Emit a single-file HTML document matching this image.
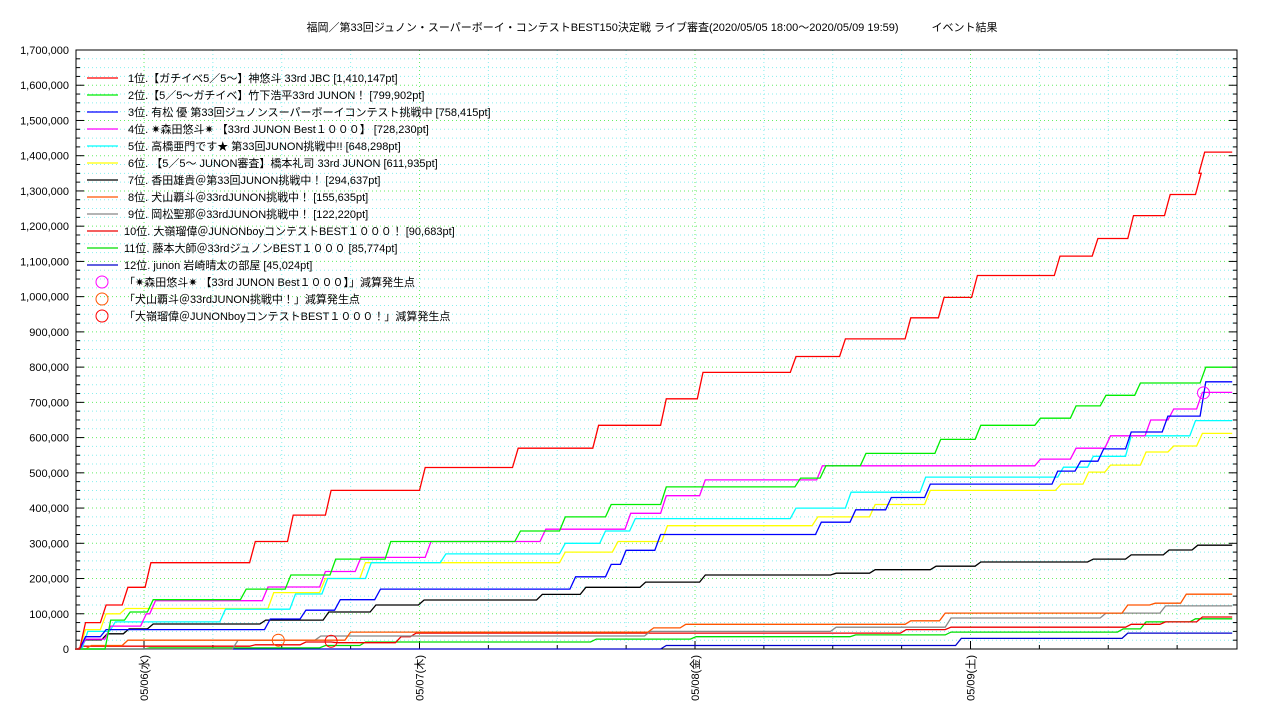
<!DOCTYPE html>
<html><head><meta charset="utf-8"><style>
body{margin:0;background:#fff;}
svg text{font-family:"Liberation Sans","Noto Sans CJK JP",sans-serif;}
</style></head><body>
<svg id="chart" width="1280" height="720" xmlns="http://www.w3.org/2000/svg">
<text x="652" y="31" font-size="11" text-anchor="middle">福岡／第33回ジュノン・スーパーボーイ・コンテストBEST150決定戦 ライブ審査(2020/05/05 18:00〜2020/05/09 19:59)　　　イベント結果</text>
<g id="grid"></g><g id="axes"></g><g id="series"></g><g id="marks"></g><g id="legend"></g>
</svg>
<script>
const yTicks=[0,100000,200000,300000,400000,500000,600000,700000,800000,900000,1000000,1100000,1200000,1300000,1400000,1500000,1600000,1700000];
const dayLabels=["05/06(水)","05/07(木)","05/08(金)","05/09(土)"];
const dayHours=[6,30,54,78];
const names=["1位.【ガチイベ5／5〜】神悠斗 33rd JBC [1,410,147pt]","2位.【5／5〜ガチイベ】竹下浩平33rd JUNON！ [799,902pt]","3位. 有松 優 第33回ジュノンスーパーボーイコンテスト挑戦中 [758,415pt]","4位. ✷森田悠斗✷ 【33rd JUNON Best１０００】 [728,230pt]","5位. 高橋亜門です★ 第33回JUNON挑戦中!! [648,298pt]","6位. 【5／5〜 JUNON審査】橋本礼司 33rd JUNON  [611,935pt]","7位. 香田雄貴＠第33回JUNON挑戦中！ [294,637pt]","8位. 犬山覇斗＠33rdJUNON挑戦中！ [155,635pt]","9位. 岡松聖那＠33rdJUNON挑戦中！ [122,220pt]","10位. 大嶺瑠偉＠JUNONboyコンテストBEST１０００！ [90,683pt]","11位. 藤本大師＠33rdジュノンBEST１０００ [85,774pt]","12位. junon 岩崎晴太の部屋 [45,024pt]"];
const colors=["#ff0000","#00ee00","#0000ff","#ff00ff","#00ffff","#ffff00","#000000","#ff5500","#888888","#ee0000","#00dd00","#0000cc"];
const endHour=100.8;
const s1t=[0,0.4,2.2,4.1,6.1,15.2,18.5,21.8,30.0,38.1,45.1,51.0,54.2,62.3,66.6,72.3,75.2,78.1,85.3,88.6,91.7,94.9,97.6,97.9];
const s1v=[0,75000,125000,175000,245000,305000,380000,450000,515000,570000,635000,710000,785000,830000,880000,940000,998000,1060000,1115000,1165000,1230000,1290000,1350000,1410147];
const s2t=[0,2.6,4.3,6.3,14.4,18.3,22.2,27.0,38.3,42.2,46.2,51.0,62.7,64.9,68.4,74.9,78.4,83.6,86.7,89.3,92.3,98.0];
const s2v=[0,82000,105000,140000,170000,210000,255000,305000,335000,375000,410000,460000,485000,520000,555000,595000,635000,655000,690000,720000,755000,799902];
const s3t=[0,0.4,2.2,16.5,19.6,22.6,26.1,43.1,46.2,47.5,50.5,64.5,67.5,70.6,74.0,85.1,87.1,89.1,91.5,94.7,98.0];
const s3v=[0,35000,55000,85000,110000,140000,170000,205000,240000,280000,325000,360000,395000,430000,468000,505000,533000,568000,616000,661000,758415];
const s4t=[0,0.4,2.6,5.7,6.5,16.3,21.3,24.4,30.5,40.5,47.9,51.0,54.4,64.6,83.6,86.7,89.7,93.2,95.2,97.7];
const s4v=[0,28000,65000,100000,137000,176000,220000,260000,305000,340000,385000,435000,480000,520000,539000,570000,605000,650000,681000,728230];
const s5t=[0,0.6,3.0,12.6,18.7,21.5,25.3,31.8,42.2,45.7,48.3,62.3,67.1,73.6,85.6,88.2,91.5,97.1];
const s5v=[0,50000,77000,113000,156000,200000,245000,270000,300000,335000,370000,400000,445000,488000,516000,547000,605000,648298];
const s6t=[0,0.4,2.2,3.9,16.8,21.3,24.8,42.2,46.8,51.1,64.2,69.2,74.0,85.4,87.8,89.7,92.8,95.2,97.7];
const s6v=[0,55000,100000,115000,160000,200000,245000,275000,305000,350000,375000,410000,450000,468000,502000,522000,559000,576000,611935];
const s7t=[0,0.4,2.3,4.2,6.3,16.1,21.6,25.7,29.9,40.2,44.0,49.2,54.4,65.8,69.2,74.5,78.4,88.2,91.5,94.8,97.3];
const s7v=[0,26000,43000,57000,71000,82000,105000,125000,139000,155000,175000,190000,210000,215000,225000,235000,247000,255000,267000,281000,294637];
const s8t=[0,0.9,4.1,23.5,49.9,52.7,72.3,75.3,91.2,93.6,96.3];
const s8v=[0,10000,25000,48000,60000,70000,80000,102000,125000,130000,155635];
const s9t=[0,13.7,20.9,49.6,65.8,75.8,89.3,94.5];
const s9v=[0,25000,37000,50000,62000,88000,102000,122220];
const s10t=[0,0.2,15.2,19.6,22.3,27.9,29.2,71.9,75.8,91.5,94.5,97.7];
const s10v=[0,8000,12000,20000,18000,35000,45000,55000,62000,70000,77000,90683];
const s11t=[0,6,21.3,24.8,44.9,53.6,67.5,75.8,90.8,92.8,97.1];
const s11v=[0,3000,10000,20000,28000,35000,40000,48000,57000,77000,85774];
const s12t=[0,51.0,76.7,91.2];
const s12v=[0,10000,30000,45024];
const seriesT=[s1t,s2t,s3t,s4t,s5t,s6t,s7t,s8t,s9t,s10t,s11t,s12t];
const seriesV=[s1v,s2v,s3v,s4v,s5v,s6v,s7v,s8v,s9v,s10v,s11v,s12v];
const markerNames=["「✷森田悠斗✷ 【33rd JUNON Best１０００】」減算発生点","「犬山覇斗＠33rdJUNON挑戦中！」減算発生点","「大嶺瑠偉＠JUNONboyコンテストBEST１０００！」減算発生点"];
const markerColors=["#ff00ff","#ff5500","#ff0000"];
const markerT=[98.3,17.7,22.3];
const markerV=[727000,25000,22000];

const L=76,R=1237,T=50,B=649;
const X=h=>144+(h-6)*275.5/24;
const Y=v=>B-v*(B-T)/1700000;
const NS="http://www.w3.org/2000/svg";
function mk(tag,attrs,parent){const e=document.createElementNS(NS,tag);for(const k in attrs)e.setAttribute(k,attrs[k]);parent.appendChild(e);return e;}
const grid=document.getElementById('grid'),axes=document.getElementById('axes'),ser=document.getElementById('series'),marks=document.getElementById('marks'),leg=document.getElementById('legend');
// minor horizontal grid
for(let v=25000;v<1700000;v+=25000){
  const major=v%100000===0;
  const g=mk('line',{x1:L,x2:R,y1:Y(v),y2:Y(v),stroke:major?'#66ee66':'#88eeee','stroke-width':1,'stroke-dasharray':'1,3'},grid);
  
  
  const t=mk('line',{x1:L,x2:L+(major?8:4),y1:Y(v),y2:Y(v),stroke:'#000'},axes);
  
  
  const t2=mk('line',{x1:R,x2:R-(major?8:4),y1:Y(v),y2:Y(v),stroke:'#000'},axes);
  
  
}
for(let h=6-6;h<=102;h+=6){
  const x=X(h); if(x<=L||x>=R)continue;
  const major=(h-6)%24===0;
  const g=mk('line',{x1:x,x2:x,y1:T,y2:B,stroke:major?'#66ee66':'#88eeee','stroke-dasharray':'1,3'},grid);
  
  
  const t=mk('line',{x1:x,x2:x,y1:B,y2:B-(major?8:4),stroke:'#000'},axes);
  
  
}
yTicks.forEach(v=>{
  const t=mk('text',{x:69,y:Y(v)+4,'font-size':11,'text-anchor':'end'},axes);
  
  
  t.textContent=v.toLocaleString('en-US');
});
dayLabels.forEach((d,i)=>{
  const x=X(dayHours[i]);
  const t=mk('text',{x:0,y:0,'font-size':11,'text-anchor':'end',transform:`translate(${x+4},655) rotate(-90)`},axes);
  
  
  t.textContent=d;
});
const fr=mk('rect',{x:L,y:T,width:R-L,height:B-T,fill:'none',stroke:'#000'},axes);


for(let i=seriesT.length-1;i>=0;i--){
  const ts=seriesT[i],vs=seriesV[i];
  let d=`M${X(ts[0]).toFixed(1)},${Y(vs[0]).toFixed(1)}`;
  for(let k=1;k<ts.length;k++){
    d+=` L${X(ts[k]).toFixed(1)},${Y(vs[k-1]).toFixed(1)} L${X(ts[k]+0.5).toFixed(1)},${Y(vs[k]).toFixed(1)}`;
  }
  d+=` L${X(endHour).toFixed(1)},${Y(vs[vs.length-1]).toFixed(1)}`;
  const p=mk('path',{d:d,fill:'none',stroke:colors[i],'stroke-width':1.3},ser);
  
  
}
markerT.forEach((t,i)=>{
  const c=mk('circle',{cx:X(t),cy:Y(markerV[i]),r:6,fill:'none',stroke:markerColors[i]},marks);
  
  
});
names.forEach((n,i)=>{
  const y=78+i*17;
  const l=mk('line',{x1:87,x2:118,y1:y,y2:y,stroke:colors[i],'stroke-width':1.3},leg);
  
  
  const t=mk('text',{x:i>=9?124:128,y:y+4,'font-size':11},leg);
  
  
  t.textContent=n;
});
markerNames.forEach((n,i)=>{
  const y=78+(12+i)*17;
  const c=mk('circle',{cx:102,cy:y,r:6,fill:'none',stroke:markerColors[i]},leg);
  
  
  const t=mk('text',{x:124,y:y+4,'font-size':11},leg);
  
  
  t.textContent=n;
});
</script>
</body></html>
